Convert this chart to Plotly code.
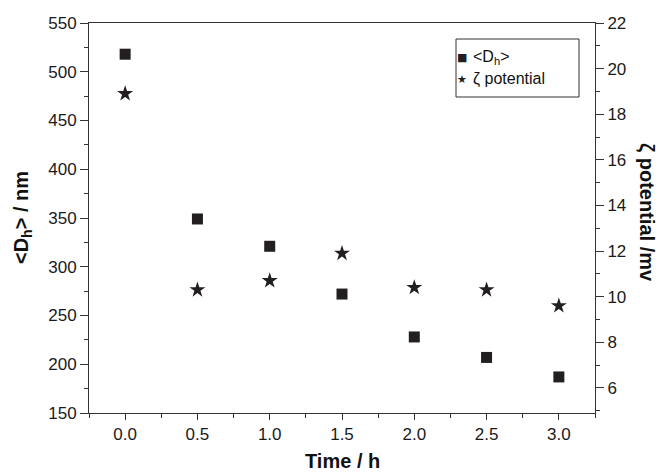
import plotly.graph_objects as go

# Measurements over time
time_h = [0.0, 0.5, 1.0, 1.5, 2.0, 2.5, 3.0]
dh_nm = [518, 349, 321, 272, 228, 207, 187]
zeta_mv = [18.9, 10.3, 10.7, 11.9, 10.4, 10.3, 9.6]

dh_name = "&lt;D<sub>h</sub>&gt;"
zeta_name = "ζ potential"

ink = "#231f20"
axis_col = "#333333"
font_family = "Liberation Sans, Arial, sans-serif"

# plot area in pixels (used to place the key box and titles)
L, R, T, B = 89, 69, 23, 60
W, H = 664, 473
PW, PH = W - L - R, H - T - B


def px(x):
    return (x - L) / PW


def py(y):
    return (H - B - y) / PH


fig = go.Figure()

fig.add_trace(go.Scatter(
    x=time_h, y=dh_nm, mode="markers", name=dh_name, showlegend=False,
    marker=dict(symbol="square", size=11, color=ink), yaxis="y",
))
fig.add_trace(go.Scatter(
    x=time_h, y=zeta_mv, mode="markers", name=zeta_name, showlegend=False,
    marker=dict(symbol="star", size=12, color=ink, line=dict(width=0)), yaxis="y2",
))

tick_font = dict(family=font_family, size=17, color="#1a1a1a")
title_font = dict(family=font_family, size=20, color="#111111")
key_font = dict(family=font_family, size=16, color="#111111")

common = dict(
    showgrid=False, zeroline=False, showline=True, linecolor=axis_col,
    linewidth=1, ticks="outside", tickcolor=axis_col, tickwidth=1,
    tickfont=tick_font,
)

# key box
shapes = [dict(type="rect", xref="paper", yref="paper",
               x0=px(456), x1=px(579), y0=py(97), y1=py(39),
               line=dict(color=axis_col, width=1), fillcolor="white", layer="above")]

annotations = [
    dict(text="<b>Time / h</b>", x=0.5, y=py(461), xref="paper", yref="paper",
         showarrow=False, font=title_font, xanchor="center", yanchor="middle"),
    dict(text="<b>&lt;D<sub>h</sub>&gt; / nm</b>", x=px(22), y=0.5,
         xref="paper", yref="paper", textangle=-90, showarrow=False,
         font=title_font, xanchor="center", yanchor="middle"),
    dict(text="<b>ζ potential /mv</b>", x=px(647), y=py(212),
         xref="paper", yref="paper", textangle=90, showarrow=False,
         font=title_font, xanchor="center", yanchor="middle"),
    # key entries
    dict(text="■", x=px(462), y=py(57), xref="paper", yref="paper",
         showarrow=False, font=dict(family="DejaVu Sans", size=11, color=ink),
         xanchor="center", yanchor="middle"),
    dict(text=dh_name, x=px(471), y=py(57), xref="paper", yref="paper",
         showarrow=False, font=key_font, xanchor="left", yanchor="middle"),
    dict(text="★", x=px(462), y=py(79), xref="paper", yref="paper",
         showarrow=False, font=dict(family="DejaVu Sans", size=11, color=ink),
         xanchor="center", yanchor="middle"),
    dict(text=zeta_name, x=px(471), y=py(79), xref="paper", yref="paper",
         showarrow=False, font=key_font, xanchor="left", yanchor="middle"),
]

fig.update_layout(
    width=W, height=H,
    margin=dict(l=L, r=R, t=T, b=B),
    paper_bgcolor="white", plot_bgcolor="white",
    font=dict(family=font_family, color="#111111"),
    showlegend=False,
    xaxis=dict(
        range=[-0.25, 3.25], tick0=0, dtick=0.5, tickformat=".1f",
        ticklen=6, mirror=True,
        minor=dict(dtick=0.25, tick0=0, ticks="outside", ticklen=4,
                   tickcolor=axis_col, tickwidth=1),
        **common,
    ),
    yaxis=dict(
        range=[150, 550], tick0=0, dtick=50, ticklen=8, mirror=True,
        minor=dict(dtick=25, tick0=0, ticks="outside", ticklen=4,
                   tickcolor=axis_col, tickwidth=1),
        **common,
    ),
    yaxis2=dict(
        overlaying="y", side="right", range=[4.9, 22], tick0=0, dtick=2,
        ticklen=8,
        minor=dict(dtick=1, tick0=0, ticks="outside", ticklen=4,
                   tickcolor=axis_col, tickwidth=1),
        **common,
    ),
    shapes=shapes,
    annotations=annotations,
)

fig.write_html("out.html")
